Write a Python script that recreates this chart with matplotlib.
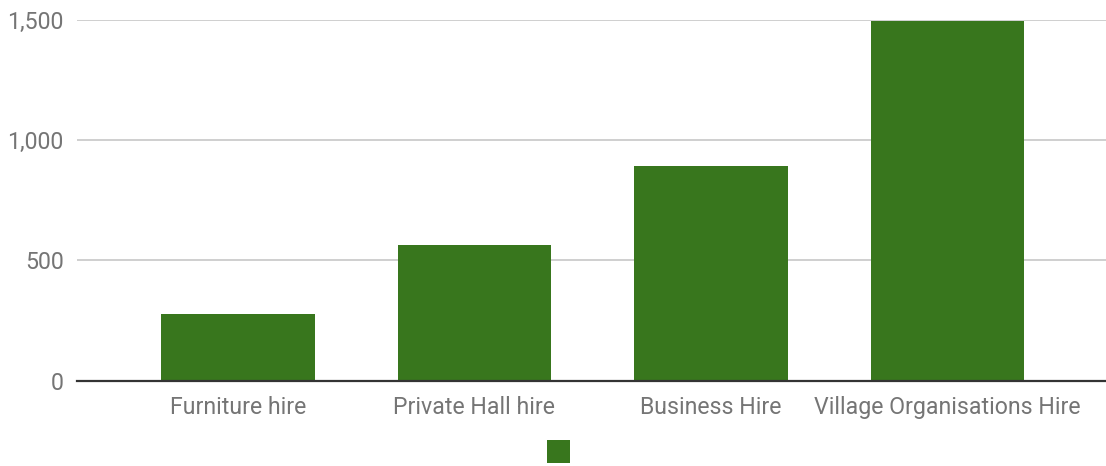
import matplotlib
matplotlib.use("Agg")
import matplotlib.pyplot as plt
from matplotlib.patches import Patch
from matplotlib.ticker import FuncFormatter

categories = ["Furniture hire", "Private Hall hire", "Business Hire", "Village Organisations Hire"]
values = [275, 564, 892, 1495]
yticks = [0, 500, 1000, 1500]

bar_color = "#38761d"
text_color = "#757575"

plt.rcParams['font.family'] = ['Roboto', 'DejaVu Sans']

W, H = 1106, 466
fig = plt.figure(figsize=(W / 100, H / 100), dpi=100)
ax = fig.add_axes([77 / W, 1 - 380.5 / H, (W - 77) / W, (380.5 - 20) / H])

x = list(range(len(categories)))
ax.bar(x, values, width=0.65, color=bar_color, zorder=3, linewidth=0)

ax.set_xlim(-0.68, 3.67)
ax.set_ylim(0, 1500)
ax.set_yticks(yticks)
ax.yaxis.set_major_formatter(FuncFormatter(lambda v, p: f"{int(v):,}"))
ax.set_xticks(x)
ax.set_xticklabels(categories)

ax.grid(axis='y', color='#cccccc', linewidth=1.3, zorder=0)
ax.set_axisbelow(True)
for s in ['top', 'right', 'left']:
    ax.spines[s].set_visible(False)
ax.spines['bottom'].set_color('#333333')
ax.spines['bottom'].set_linewidth(1.6)
ax.spines['bottom'].set_zorder(4)

ax.tick_params(axis='both', length=0, labelsize=16.7, labelcolor=text_color)
ax.tick_params(axis='y', pad=9.5)
ax.tick_params(axis='x', pad=11)

fig.legend(handles=[Patch(facecolor=bar_color, edgecolor='none')], labels=[''],
           loc='center', bbox_to_anchor=(558.5 / W, 1 - 451.5 / H), frameon=False,
           handlelength=1.15, handleheight=1.45, handletextpad=0, borderpad=0, fontsize=14)

fig.savefig("out.png", dpi=100, facecolor='white')
